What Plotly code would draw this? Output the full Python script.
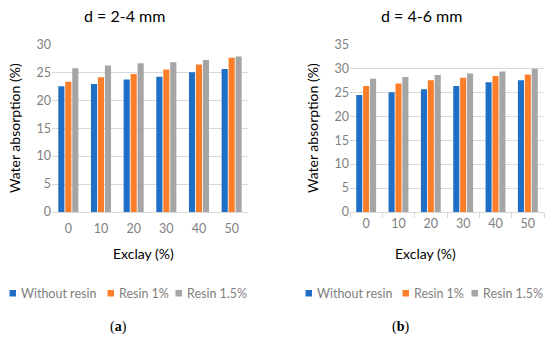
import plotly.graph_objects as go

categories = ["0", "10", "20", "30", "40", "50"]
series_names = ["Without resin", "Resin 1%", "Resin 1.5%"]
a_without = [22.5, 22.9, 23.7, 24.2, 25.0, 25.6]
a_r1 = [23.3, 24.1, 24.7, 25.5, 26.4, 27.6]
a_r15 = [25.7, 26.2, 26.6, 26.8, 27.2, 27.8]
b_without = [24.4, 25.0, 25.6, 26.3, 27.1, 27.5]
b_r1 = [26.3, 26.8, 27.5, 28.0, 28.4, 28.7]
b_r15 = [27.8, 28.2, 28.6, 28.9, 29.3, 29.9]
a_ticks = [0, 5, 10, 15, 20, 25, 30]
b_ticks = [0, 5, 10, 15, 20, 25, 30, 35]

colors = ["#1f6fc6", "#fd7e28", "#a5a5a5"]
FONT = "Lato, 'Open Sans', sans-serif"
W, H = 550, 342

fig = go.Figure()
for name, vals, c in zip(series_names, [a_without, a_r1, a_r15], colors):
    fig.add_trace(go.Bar(x=categories, y=vals, name=name, marker_color=c,
                         marker_line_width=0, xaxis="x", yaxis="y", showlegend=False))
for name, vals, c in zip(series_names, [b_without, b_r1, b_r15], colors):
    fig.add_trace(go.Bar(x=categories, y=vals, name=name, marker_color=c,
                         marker_line_width=0, xaxis="x2", yaxis="y2", showlegend=False))

def px_x(p):
    return p / W

def px_y(p):
    return 1 - p / H

grid = "#d9d9d9"
tickfont = dict(family=FONT, size=12.5, color="#7f7f7f")
ydom = [px_y(212), px_y(44.3)]

fig.update_layout(
    width=W, height=H, margin=dict(l=0, r=0, t=0, b=0, autoexpand=False),
    paper_bgcolor="white", plot_bgcolor="white",
    barmode="group", bargap=0.36, bargroupgap=0.12,
    font=dict(family=FONT),
    showlegend=False,
    xaxis=dict(domain=[px_x(52), px_x(248)], type="category", tickfont=tickfont,
               showgrid=False, showline=True, linecolor=grid, linewidth=1, ticks="",
               ticklabelstandoff=5, anchor="y", automargin=False),
    yaxis=dict(domain=ydom, range=[0, 30], tickvals=a_ticks, tickfont=tickfont,
               showgrid=True, gridcolor=grid, zeroline=False, showline=False,
               ticks="", anchor="x", automargin=False),
    xaxis2=dict(domain=[px_x(350), px_x(544)], type="category", tickfont=tickfont,
                showgrid=False, showline=True, linecolor=grid, linewidth=1,
                ticks="outside", tickson="boundaries", ticklen=5, tickcolor=grid,
                ticklabelstandoff=0, anchor="y2", automargin=False),
    yaxis2=dict(domain=ydom, range=[0, 35], tickvals=b_ticks, tickfont=tickfont,
                showgrid=True, gridcolor=grid, zeroline=False, showline=False,
                ticks="", anchor="x2", automargin=False),
)

ann = []
ann.append(dict(text="d = 2-4 mm", x=px_x(124), y=px_y(15), font=dict(family=FONT, size=16, color="black")))
ann.append(dict(text="d = 4-6 mm", x=px_x(421), y=px_y(15), font=dict(family=FONT, size=16, color="black")))
ann.append(dict(text="Exclay (%)", x=px_x(143), y=px_y(253), font=dict(family=FONT, size=14, color="black")))
ann.append(dict(text="Exclay (%)", x=px_x(425), y=px_y(253), font=dict(family=FONT, size=14, color="black")))
ann.append(dict(text="Water absorption (%)", x=px_x(14), y=px_y(128), textangle=-90,
                font=dict(family=FONT, size=14, color="black")))
ann.append(dict(text="Water absorption (%)", x=px_x(312), y=px_y(128), textangle=-90,
                font=dict(family=FONT, size=14, color="black")))
ann.append(dict(text="(<b>a</b>)", x=px_x(118), y=px_y(327), font=dict(family="Liberation Serif, serif", size=14, color="black")))
ann.append(dict(text="(<b>b</b>)", x=px_x(400), y=px_y(327), font=dict(family="Liberation Serif, serif", size=14, color="black")))
for a in ann:
    a.update(xref="paper", yref="paper", showarrow=False, xanchor="center", yanchor="middle")

# manual legends
legend_sq_x = [[9.5, 107.5, 175.5], [305.5, 402.5, 471.5]]
shapes = []
for row in legend_sq_x:
    for xs, name, c in zip(row, series_names, colors):
        shapes.append(dict(type="rect", xref="paper", yref="paper",
                           x0=px_x(xs), x1=px_x(xs + 6.5), y0=px_y(290), y1=px_y(296.5),
                           fillcolor=c, line=dict(width=0)))
        ann.append(dict(text=name, x=px_x(xs + 9.5), y=px_y(293.5), xref="paper", yref="paper",
                        showarrow=False, xanchor="left", yanchor="middle",
                        font=dict(family=FONT, size=12.5, color="#7f7f7f")))
fig.update_layout(annotations=ann, shapes=shapes)

fig.write_html("out.html", config={"displayModeBar": False},
               post_script="document.body.style.margin='0';")
